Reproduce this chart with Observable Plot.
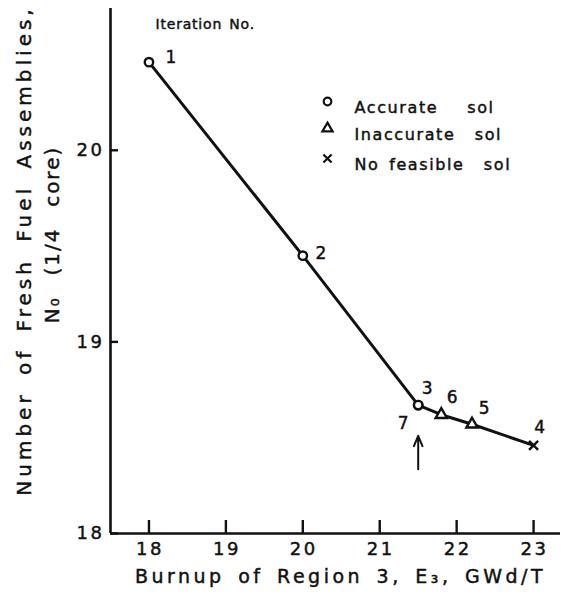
<!DOCTYPE html>
<html>
<head>
<meta charset="utf-8">
<script src="https://cdn.jsdelivr.net/npm/d3@7"></script>
<script src="https://cdn.jsdelivr.net/npm/@observablehq/plot@0.6"></script>
<style>
  html, body { margin: 0; padding: 0; background: #fff; }
</style>
</head>
<body>
<div id="chart"></div>
<script>
// ---- data ----
const iterations = [1, 2, 3, 4, 5, 6, 7];
const burnup     = [18.0, 20.0, 21.5, 23.0, 22.2, 21.8, 21.5];
const freshFuel  = [20.46, 19.45, 18.67, 18.46, 18.57, 18.62, 18.67];
const solution   = ["Accurate", "Accurate", "Accurate", "No feasible", "Inaccurate", "Inaccurate", "Accurate"];
const xTicks = [18, 19, 20, 21, 22, 23];
const yTicks = [18, 19, 20];
const legendKeys   = ["Accurate", "Inaccurate", "No feasible"];
const legendLabels = ["Accurate   sol", "Inaccurate  sol", "No feasible  sol"];
const finalIteration = {x: 21.5, y1: 18.335, y2: 18.51};
const xTitle = "Burnup of Region 3, E\u2083, GWd/T";
const yTitle1 = "Number of Fresh Fuel Assemblies,";
const yTitle2 = "N\u2080  (1/4  core)";
const iterTitle = "Iteration No.";

// ---- style (label offsets in px) ----
const labelOffset = {1: [22, -5], 2: [18, -2], 3: [9, -17], 4: [6, -18], 5: [12, -16], 6: [11, -17], 7: [-15, 18]};

const rows = iterations.map((it, i) => ({it, x: burnup[i], y: freshFuel[i], status: solution[i]}));
const lineRows = rows.slice().sort((a, b) => a.x - b.x);

const ink = "#111";
const marks = [
  Plot.ruleY([18], {stroke: ink, strokeWidth: 2.6}),
  Plot.ruleX([17.5], {stroke: ink, strokeWidth: 2.6}),
  // inward ticks
  Plot.axisX({ticks: xTicks, tickSize: 13, dy: -13, tickFormat: () => "", label: null, stroke: ink, strokeWidth: 2.4}),
  Plot.axisY({ticks: yTicks, tickSize: 8, dx: 8, tickFormat: () => "", label: null, stroke: ink, strokeWidth: 2.4}),
  // tick labels
  Plot.axisX({ticks: xTicks, tickSize: 0, tickPadding: 9, tickFormat: d => String(d), label: null, fill: ink, dx: 1}),
  Plot.axisY({ticks: yTicks, tickSize: 0, tickPadding: 6, tickFormat: d => String(d), label: null, fill: ink}),
  // line
  Plot.line(lineRows, {x: "x", y: "y", stroke: ink, strokeWidth: 3}),
  // final arrow
  Plot.arrow([finalIteration], {x: "x", y1: "y1", y2: "y2", stroke: ink, strokeWidth: 2, headLength: 9, headAngle: 45}),
  // markers
  Plot.dot(rows, {x: "x", y: "y", symbol: "status", r: 4.2, stroke: ink, fill: "white", strokeWidth: 2.4}),
  // iteration labels
  ...rows.map(r => Plot.text([r], {x: "x", y: "y", text: d => String(d.it), dx: labelOffset[r.it][0], dy: labelOffset[r.it][1], fontSize: 17, fill: ink})),
  Plot.text([iterTitle], {frameAnchor: "top-left", dx: 45, dy: 11, text: d => d, textAnchor: "start", fontSize: 14, fill: ink}),
  // legend
  ...legendKeys.map((k, i) => Plot.dot([k], {frameAnchor: "top-left", dx: 217, dy: [93, 120, 150][i], symbol: d => d, r: 3.8, stroke: ink, fill: "white", strokeWidth: 2.2})),
  ...legendLabels.map((t, i) => Plot.text([t], {frameAnchor: "top-left", dx: 244, dy: [93, 120, 150][i], text: d => d, textAnchor: "start", fontSize: 16, fill: ink})),
  // axis titles
  Plot.text([xTitle], {frameAnchor: "bottom", dx: 5, dy: 49, text: d => d, textAnchor: "middle", fontSize: 19, fill: ink}),
  Plot.text([yTitle1], {frameAnchor: "top-left", dx: -94, dy: 242, rotate: -90, text: d => d, textAnchor: "middle", fontSize: 20, fill: ink}),
  Plot.text([yTitle2], {frameAnchor: "top-left", dx: -66, dy: 226, rotate: -90, text: d => d, textAnchor: "middle", fontSize: 20, fill: ink})
];

const chart = Plot.plot({
  width: 566,
  height: 606,
  marginLeft: 110,
  marginRight: 6,
  marginTop: 8,
  marginBottom: 73,
  style: {fontFamily: "'DejaVu Sans', sans-serif", fontSize: "18px", background: "white", color: ink},
  x: {domain: [17.5, 23.35], label: null},
  y: {domain: [18, 20.74], label: null},
  symbol: {domain: legendKeys, range: ["circle", "triangle", "times"]},
  marks
});

// letter spacing by text content (lettering style of the original)
const spacing = new Map([
  [xTitle, [3.5, 4]], [yTitle1, [4, 6]], [yTitle2, [2, 2]], [iterTitle, [0.8, 2]],
  ...legendLabels.map(t => [t, [1.6, 3]])
]);
chart.querySelectorAll("text").forEach(t => {
  const s = spacing.get(t.textContent);
  if (s) { t.setAttribute("letter-spacing", s[0]); t.setAttribute("word-spacing", s[1]); }
  else if (/^\d+$/.test(t.textContent) && t.textContent.length === 2) t.setAttribute("letter-spacing", 2.5);
  t.style.stroke = ink;
  t.style.strokeWidth = "0.45px";
});
document.getElementById("chart").appendChild(chart);
</script>
</body>
</html>
